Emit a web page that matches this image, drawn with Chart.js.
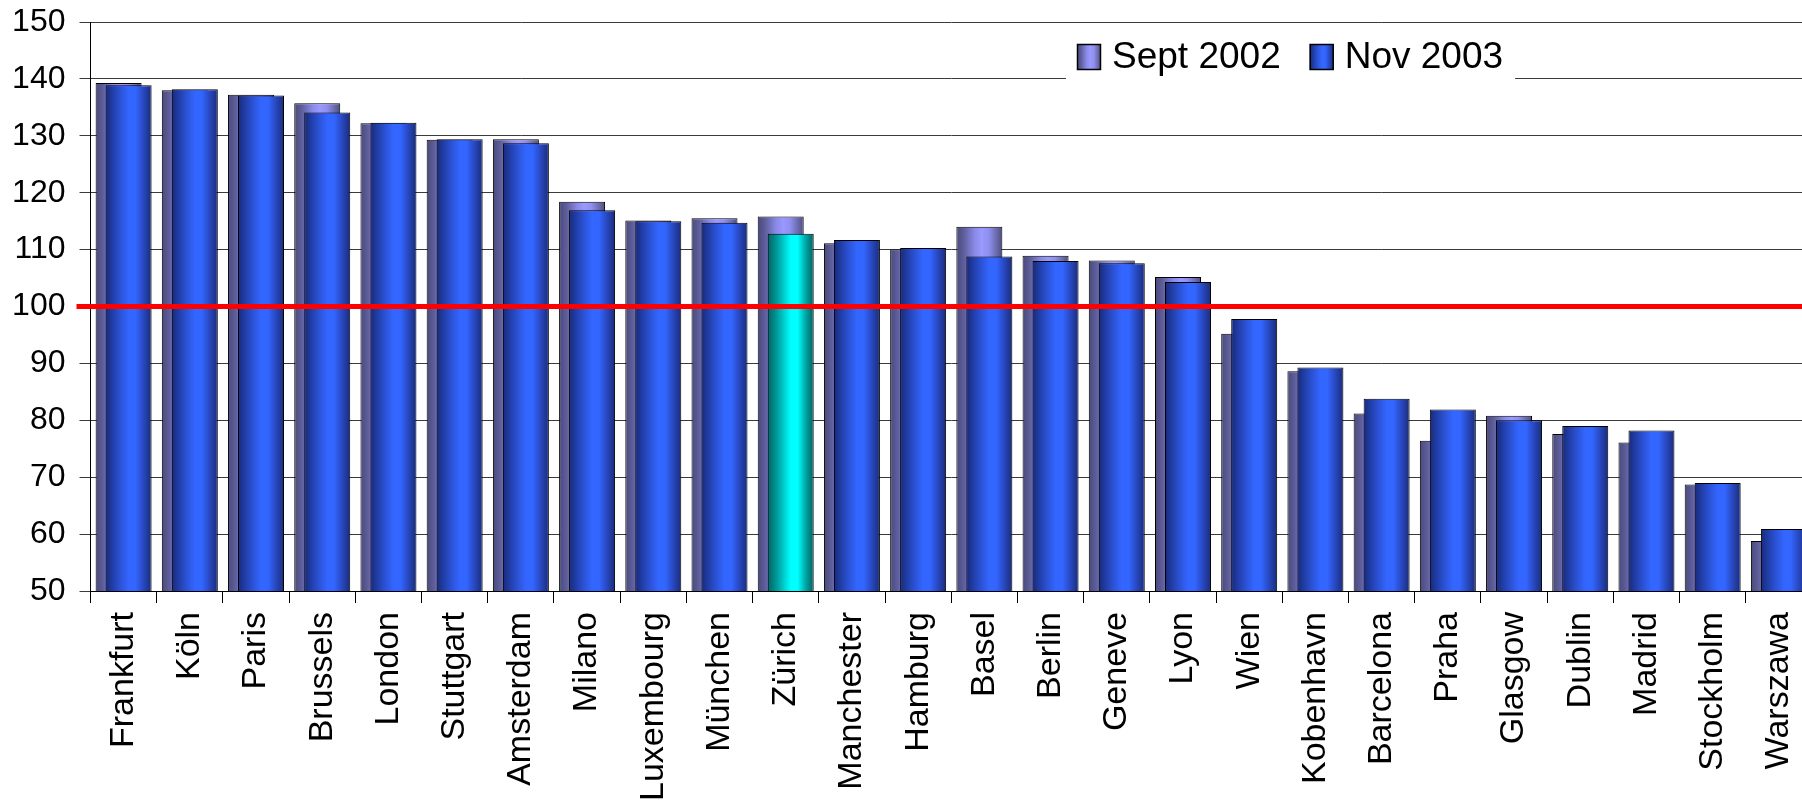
<!DOCTYPE html>
<html>
<head>
<meta charset="utf-8">
<script src="https://cdn.jsdelivr.net/npm/chart.js@4.4.1/dist/chart.umd.min.js"></script>
<style>
  html, body { margin: 0; padding: 0; background: #fff; overflow: hidden; }
  /* plot runs a few px past the right edge, like the original export */
  #wrap { width: 1812px; height: 804px; }
</style>
</head>
<body>
<div id="wrap"><canvas id="chart"></canvas></div>
<script>
  // ---- data ----
  const CITIES = ['Frankfurt', 'Köln', 'Paris', 'Brussels', 'London', 'Stuttgart', 'Amsterdam', 'Milano',
    'Luxembourg', 'München', 'Zürich', 'Manchester', 'Hamburg', 'Basel', 'Berlin', 'Geneve', 'Lyon', 'Wien',
    'Kobenhavn', 'Barcelona', 'Praha', 'Glasgow', 'Dublin', 'Madrid', 'Stockholm', 'Warszawa'];
  const SEPT_2002 = [139.3, 138.0, 137.2, 135.7, 132.2, 129.3, 129.4, 118.4,
    115.1, 115.5, 115.8, 111.1, 110.0, 114.0, 108.9, 108.1, 105.2, 95.2,
    88.6, 81.2, 76.4, 80.8, 77.6, 76.1, 68.7, 58.8];
  const NOV_2003 = [138.9, 138.2, 137.1, 134.1, 132.3, 129.4, 128.7, 116.9,
    115.0, 114.7, 112.8, 111.7, 110.3, 108.8, 108.0, 107.6, 104.3, 97.8,
    89.3, 83.8, 81.9, 80.0, 79.0, 78.2, 69.0, 60.9];
  const SERIES_LABELS = ['Sept 2002', 'Nov 2003'];
  const Y_MIN = 50, Y_MAX = 150, Y_STEP = 10;
  const BASELINE = 100;          // red reference line
  const HIGHLIGHT = 'Zürich';    // city drawn in cyan

  const FONT = '"Liberation Sans", Arial, Helvetica, sans-serif';

  // overlapping bars: narrow slots, bars much wider than their slot
  const CAT_PCT = 0.302;
  const BAR_PCT = 4.6;

  const SEPT_STOPS = [[0, '#4a4a7c'], [0.15, '#5c5c98'], [0.4, '#8a8ae8'], [0.55, '#9999ff'],
    [0.7, '#9090f0'], [0.88, '#6a6aaa'], [1, '#4c4c80']];
  const NOV_STOPS = [[0, '#182a78'], [0.12, '#1f3a9e'], [0.3, '#2a50d0'], [0.5, '#3366ff'],
    [0.65, '#3366ff'], [0.82, '#2848c0'], [1, '#1a2c78']];
  const CYAN_STOPS = [[0, '#006666'], [0.15, '#008a8a'], [0.35, '#00cccc'], [0.5, '#00ffff'],
    [0.65, '#00ffff'], [0.82, '#00a8a8'], [1, '#006060']];

  function gradient(ctx, left, right, stops) {
    const g = ctx.createLinearGradient(left, 0, right, 0);
    stops.forEach(([o, c]) => g.addColorStop(o, c));
    return g;
  }

  function stopsFor(datasetIndex, dataIndex) {
    if (datasetIndex === 0) return SEPT_STOPS;
    return CITIES[dataIndex] === HIGHLIGHT ? CYAN_STOPS : NOV_STOPS;
  }

  // horizontal "cylinder" shading, computed from the bar's slot on the x scale
  function barFill(c) {
    const stops = stopsFor(c.datasetIndex, c.dataIndex);
    const flat = stops[3][1];
    const xs = c.chart.scales && c.chart.scales.x;
    if (c.type !== 'data' || !xs || !xs.width) return flat;
    const cw = xs.width / CITIES.length;
    const slot = cw * CAT_PCT / 2;
    const center = xs.getPixelForValue(c.dataIndex) + (c.datasetIndex - 0.5) * slot;
    const half = slot * BAR_PCT / 2;
    if (!Number.isFinite(center) || !Number.isFinite(half)) return flat;
    return gradient(c.chart.ctx, center - half, center + half, stops);
  }

  // Nov 2003 sits in front of Sept 2002 -> draw datasets in index order
  const frontToBack = {
    id: 'frontToBack',
    beforeDatasetsDraw(chart) {
      const { ctx, chartArea } = chart;
      ctx.save();
      ctx.beginPath();
      ctx.rect(chartArea.left, chartArea.top, chartArea.right - chartArea.left, chartArea.bottom - chartArea.top);
      ctx.clip();
      chart.getSortedVisibleDatasetMetas().forEach((meta) => meta.controller.draw());
      ctx.restore();
      return false;
    },
  };

  const baseline = {
    id: 'baseline',
    afterDraw(chart) {
      const { ctx, chartArea } = chart;
      const y = chart.scales.y.getPixelForValue(BASELINE);
      ctx.save();
      ctx.strokeStyle = '#ff0000';
      ctx.lineWidth = 5;
      ctx.beginPath();
      ctx.moveTo(chartArea.left - 14, y);
      ctx.lineTo(chartArea.right, y);
      ctx.stroke();
      ctx.restore();
    },
  };

  const legendBox = {
    id: 'legendBox',
    afterDraw(chart) {
      const ctx = chart.ctx;
      const sw = 24, sh = 26, gap = 11, itemGap = 29;
      const left = 1077, top = 44, baselineY = 68;
      ctx.save();
      ctx.font = '37px ' + FONT;
      const items = chart.data.datasets.map((ds, i) => ({
        label: ds.label,
        stops: i === 0 ? SEPT_STOPS : NOV_STOPS,
        w: ctx.measureText(ds.label).width,
      }));
      const total = items.reduce((s, it) => s + sw + gap + it.w, 0) + itemGap * (items.length - 1);
      ctx.fillStyle = '#ffffff';
      ctx.fillRect(left - 11, 31, total + 23, 51);
      let x = left;
      items.forEach((it) => {
        ctx.fillStyle = gradient(ctx, x, x + sw, it.stops);
        ctx.fillRect(x, top, sw, sh);
        ctx.strokeStyle = '#000';
        ctx.lineWidth = 1.5;
        ctx.strokeRect(x + 0.5, top + 0.5, sw - 1, sh - 1);
        ctx.fillStyle = '#000';
        ctx.textBaseline = 'alphabetic';
        ctx.fillText(it.label, x + sw + gap, baselineY);
        x += sw + gap + it.w + itemGap;
      });
      ctx.restore();
    },
  };

  const barStyle = { backgroundColor: barFill, borderColor: '#000000', borderWidth: 1 };

  new Chart(document.getElementById('chart'), {
    type: 'bar',
    data: {
      labels: CITIES,
      datasets: [
        { label: SERIES_LABELS[0], data: SEPT_2002, ...barStyle },
        { label: SERIES_LABELS[1], data: NOV_2003, ...barStyle },
      ],
    },
    options: {
      responsive: true,
      maintainAspectRatio: false,
      animation: false,
      devicePixelRatio: 1,
      layout: { padding: { top: 22, right: 0, bottom: 0, left: 0 } },
      datasets: {
        bar: { categoryPercentage: CAT_PCT, barPercentage: BAR_PCT },
      },
      plugins: {
        colors: { enabled: false },
        legend: { display: false },
        tooltip: { enabled: false },
      },
      scales: {
        x: {
          grid: { drawOnChartArea: false, drawTicks: true, tickLength: 12, color: '#000', lineWidth: 1, offset: true },
          border: { color: '#000', width: 1 },
          ticks: {
            autoSkip: false, minRotation: 90, maxRotation: 90, padding: 9,
            color: '#000', font: { family: FONT, size: 34 },
          },
          afterFit(scale) {
            scale.height = 213;
            scale.paddingLeft = 0;
            scale.paddingRight = 0;
          },
        },
        y: {
          min: Y_MIN,
          max: Y_MAX,
          beginAtZero: false,
          grid: { color: '#3a3a3a', lineWidth: 1, tickLength: 11 },
          border: { color: '#000', width: 1 },
          ticks: { stepSize: Y_STEP, padding: 14, color: '#000', font: { family: FONT, size: 32 } },
          afterFit(scale) {
            scale.width = 90.5;
            scale.paddingTop = 0;
            scale.paddingBottom = 0;
          },
        },
      },
    },
    plugins: [frontToBack, baseline, legendBox],
  });
</script>
</body>
</html>
